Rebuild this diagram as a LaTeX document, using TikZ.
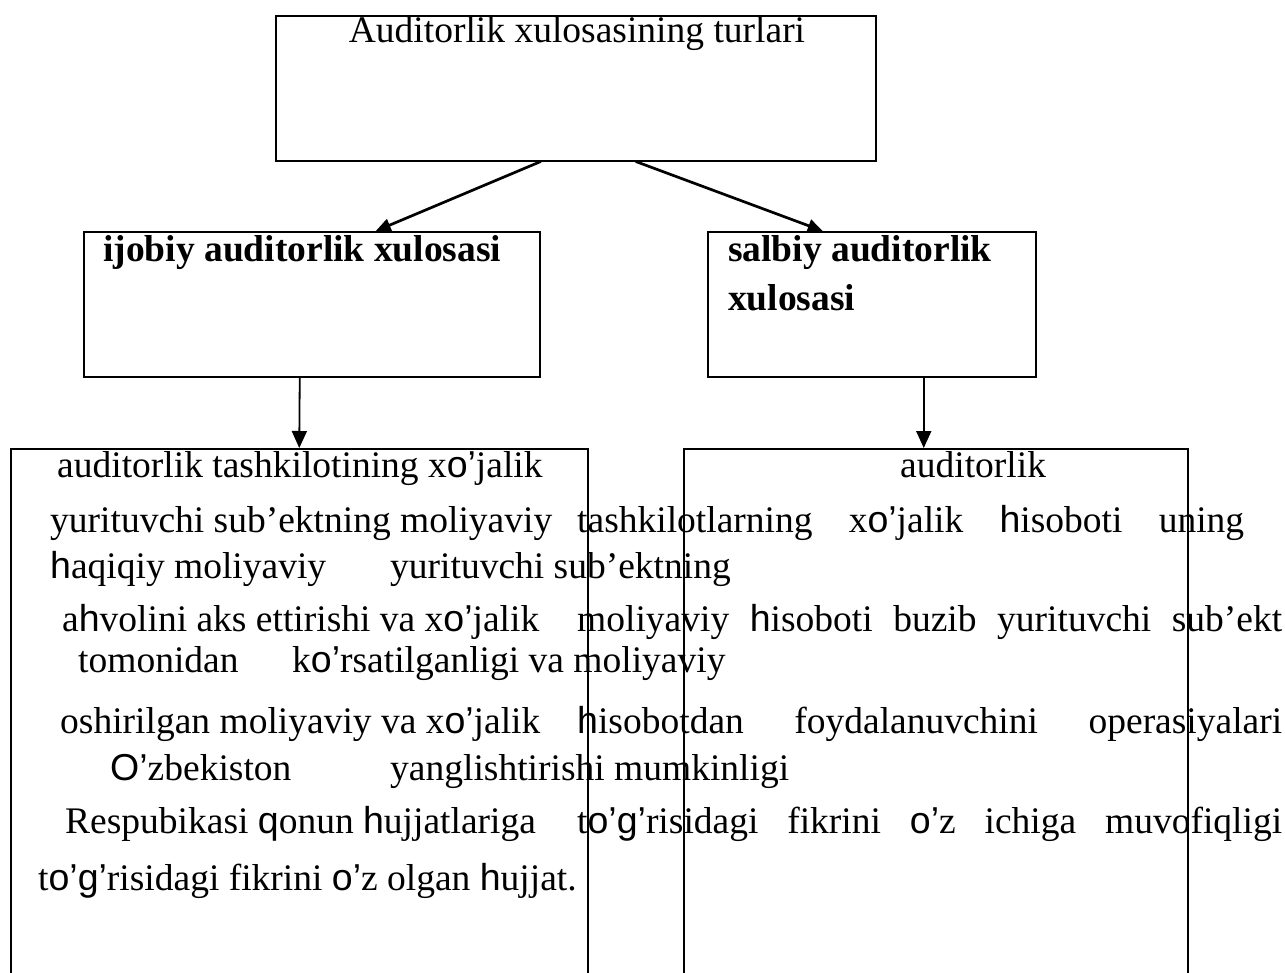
\documentclass[tikz,border=0pt]{standalone}
\usepackage{fontspec}
\setmainfont{Liberation Serif}
\newfontfamily\sansx{Liberation Sans}
\usetikzlibrary{positioning, arrows.meta}
\newcommand{\sx}[1]{{\sansx #1}}
\newcommand{\jline}[2]{\makebox[#1][s]{#2}}
\tikzset{
  box/.style={draw, line width=1.5pt, inner sep=0pt, anchor=north west},
  txt/.style={font=\fontsize{37.5}{45}\selectfont, inner sep=0pt, anchor=base west},
  head/.style={txt, font=\fontsize{37.5}{45}\selectfont\bfseries},
  arr/.style={-{Triangle[length=15pt,width=13pt]}, line width=2.7pt},
  varr/.style={-{Triangle[length=17pt,width=15pt]}, line width=1.8pt}
}
\begin{document}
\begin{tikzpicture}[x=1pt, y=-1pt]
  \useasboundingbox (0,0) rectangle (1285,972);
  % boxes
  \node[box, minimum width=600pt, minimum height=145pt] (root) at (275,15) {};
  \node[box, minimum width=456pt, minimum height=145pt] (pos) at (83,231) {};
  \node[box, minimum width=328pt, minimum height=145pt] (neg) at (707,231) {};
  \node[box, minimum width=577pt, minimum height=560pt] (lbody) at (10,448) {};
  \node[box, minimum width=504pt, minimum height=560pt] (rbody) at (683,448) {};

  % headings
  \node[txt, anchor=base] (title) at (577,42) {Auditorlik xulosasining turlari};
  \node[head] (posl) at (103,261) {ijobiy auditorlik xulosasi};
  \node[head] (negl) at (728,261) {salbiy auditorlik};
  \node[head] (negl2) at (728,310) {xulosasi};

  % left text
  \node[txt] (l1) at (57,477) {auditorlik tashkilotining x\sx{o’}jalik};
  \node[txt] (l2) at (50,532) {yurituvchi sub’ektning moliyaviy};
  \node[txt] (l3) at (50,578) {\sx{h}aqiqiy moliyaviy};
  \node[txt] (l4) at (62,631) {a\sx{h}volini aks ettirishi va x\sx{o’}jalik};
  \node[txt] (l5) at (78,672) {tomonidan};
  \node[txt] (l6) at (60,733) {oshirilgan moliyaviy va x\sx{o’}jalik};
  \node[txt] (l7) at (110,780) {\sx{O’}zbekiston};
  \node[txt] (l8) at (65,833) {Respubikasi \sx{q}onun \sx{h}ujjatlariga};
  \node[txt] (l9) at (38,890) {t\sx{o’g’}risidagi fikrini \sx{o’}z olgan \sx{h}ujjat.};

  % right text
  \node[txt] (r1) at (900,477) {auditorlik};
  \node[txt] (r2) at (577,532) {\jline{667pt}{tashkilotlarning x\sx{o’}jalik \sx{h}isoboti uning}};
  \node[txt] (r3) at (390,578) {yurituvchi sub’ektning};
  \node[txt] (r4) at (577,631) {\jline{705pt}{moliyaviy \sx{h}isoboti buzib yurituvchi sub’ekt}};
  \node[txt] (r5) at (292,672) {k\sx{o’}rsatilganligi va moliyaviy};
  \node[txt] (r6) at (577,733) {\jline{705pt}{\sx{h}isobotdan foydalanuvchini operasiyalari}};
  \node[txt] (r7) at (390,780) {yanglishtirishi mumkinligi};
  \node[txt] (r8) at (577,833) {\jline{705pt}{t\sx{o’g’}risidagi fikrini \sx{o’}z ichiga muvofiqligi}};

  % connectors
  \draw[arr] ([xshift=-35pt]root.south) -- ([xshift=64pt]pos.north);
  \draw[arr] ([xshift=60pt]root.south) -- ([xshift=-49pt]neg.north);
  \draw[varr] ([xshift=-12pt]pos.south) -- (lbody.north);
  \draw[varr] ([xshift=52pt]neg.south) -- ([xshift=-12pt]rbody.north);
\end{tikzpicture}
\end{document}
